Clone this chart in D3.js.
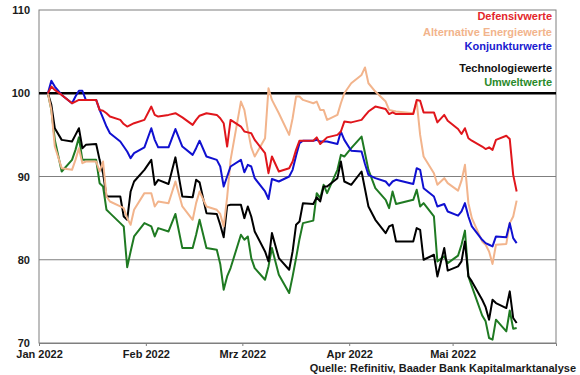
<!DOCTYPE html>
<html>
<head>
<meta charset="utf-8">
<script src="https://cdn.jsdelivr.net/npm/d3@7"></script>
<style>
  body { margin: 0; background: #fff; }
  svg { display: block; font-family: "Liberation Sans", Arial, sans-serif; }
</style>
</head>
<body>
<div id="chart"></div>
<script>
// Trading days shown in the chart (index 100 = 3 Jan 2022)
const dates = [
  '2022-01-03','2022-01-04','2022-01-05','2022-01-07','2022-01-10','2022-01-11','2022-01-12','2022-01-13','2022-01-14',
  '2022-01-17','2022-01-18','2022-01-19','2022-01-20','2022-01-21','2022-01-24','2022-01-25','2022-01-26','2022-01-27',
  '2022-01-28','2022-01-31','2022-02-02','2022-02-03','2022-02-04','2022-02-07','2022-02-09','2022-02-11','2022-02-14',
  '2022-02-15','2022-02-16','2022-02-18','2022-02-21','2022-02-22','2022-02-23','2022-02-24','2022-02-25','2022-02-28',
  '2022-03-01','2022-03-02','2022-03-03','2022-03-04','2022-03-07','2022-03-08','2022-03-09','2022-03-11','2022-03-14',
  '2022-03-15','2022-03-16','2022-03-17','2022-03-18','2022-03-21','2022-03-22','2022-03-23','2022-03-24','2022-03-25',
  '2022-03-28','2022-03-29','2022-03-30','2022-04-01','2022-04-04','2022-04-05','2022-04-06','2022-04-08','2022-04-11',
  '2022-04-12','2022-04-13','2022-04-14','2022-04-19','2022-04-20','2022-04-21','2022-04-22','2022-04-25','2022-04-26',
  '2022-04-28','2022-04-29','2022-05-02','2022-05-03','2022-05-04','2022-05-05','2022-05-06','2022-05-09','2022-05-10',
  '2022-05-11','2022-05-12','2022-05-13','2022-05-16','2022-05-17','2022-05-18','2022-05-19'
];

const defensivwerte = [
  100, 100.8, 100.4, 99.8, 98.8, 99.0, 99.2, 99.2, 99.2,
  99.2, 98.0, 97.9, 97.6, 97.2, 96.8, 96.3, 96.0, 96.2,
  96.4, 96.8, 98.4, 97.4, 97.2, 97.4, 97.6, 97.1, 96.2,
  96.8, 97.3, 97.6, 97.4, 97.0, 96.4, 93.6, 96.8, 96.0,
  95.4, 95.3, 95.2, 94.4, 92.8, 90.4, 92.4, 90.6, 91.0,
  91.8, 93.2, 94.3, 94.3, 94.3, 94.7, 93.9, 94.3, 94.7,
  95.0, 95.4, 96.6, 96.5, 96.8, 97.3, 97.8, 98.4, 98.1,
  97.5, 97.7, 97.5, 97.5, 99.2, 99.1, 97.7, 97.7, 96.5,
  97.4, 96.7, 95.7, 95.1, 95.8, 94.6, 94.3, 93.6, 93.3,
  93.5, 93.2, 94.4, 94.9, 94.5, 90.2, 88.2
];

const alternativeEnergie = [
  100, 98.0, 93.6, 91.0, 90.8, 92.0, 93.4, 91.6, 91.8,
  91.8, 90.6, 91.8, 87.6, 87.0, 86.4, 86.2, 85.0, 84.2,
  86.0, 88.0, 88.0, 86.4, 87.0, 86.8, 89.4, 86.4, 84.8,
  86.8, 88.2, 86.4, 86.0, 85.5, 84.0, 87.5, 92.0, 99.0,
  98.0, 95.6, 93.5, 92.4, 94.6, 100.6, 99.2, 97.6, 95.0,
  97.0, 99.6, 99.6, 99.2, 98.8, 99.0, 98.0, 98.0, 96.8,
  97.4, 98.8, 100.0, 101.2, 102.2, 103.1, 101.2, 100.2, 99.0,
  98.0, 97.9, 97.8, 97.6, 99.0, 95.0, 92.4, 90.4, 89.0,
  89.8, 89.2, 88.3, 89.5, 91.4, 86.8, 85.0, 82.2, 81.8,
  81.0, 79.5, 81.8, 81.9, 84.4, 85.2, 87.1
];

const konjunkturwerte = [
  100, 101.5, 100.8, 99.8, 98.8, 99.6, 100.3, 100.3, 99.2,
  99.2, 98.0, 97.0, 96.0, 95.2, 94.2, 93.6, 93.0, 92.2,
  92.8, 93.5, 95.8, 94.4, 93.5, 93.5, 95.7, 93.6, 92.6,
  93.4, 94.3, 92.4, 92.0, 91.2, 88.8, 90.0, 91.2, 92.0,
  90.5, 91.4, 91.2, 89.8, 88.2, 87.3, 89.7, 89.4, 90.0,
  90.8, 92.5, 94.0, 94.3, 94.3, 94.4, 94.2, 94.2, 94.2,
  93.9, 95.4, 94.4, 93.1, 93.0, 91.5, 90.2, 89.8, 89.4,
  88.9, 89.4, 89.6, 89.1, 91.0, 90.8, 88.6, 87.6, 86.4,
  86.7, 85.8, 85.3, 85.8, 86.8, 85.2, 84.0, 82.4, 82.0,
  81.8, 81.6, 82.8, 82.7, 84.4, 82.6, 82.0
];

const technologiewerte = [
  100, 98.6, 95.8, 94.4, 94.2, 95.0, 95.8, 93.4, 93.8,
  93.9, 92.0, 90.4, 87.6, 87.6, 87.6, 85.2, 84.8, 88.2,
  89.4, 90.8, 92.0, 89.0, 89.6, 89.1, 92.3, 87.6, 87.5,
  89.6, 89.3, 85.6, 85.5, 84.2, 82.7, 86.5, 86.6, 86.6,
  85.0, 86.4, 85.2, 83.4, 81.0, 79.8, 83.2, 80.2, 78.8,
  81.0, 84.2, 84.6, 86.8, 86.7, 87.5, 87.0, 88.8, 88.8,
  89.8, 91.8, 89.4, 89.0, 90.6, 88.5, 86.4, 84.8, 83.2,
  84.0, 84.2, 82.2, 82.2, 83.8, 83.6, 80.0, 80.6, 78.0,
  81.4, 78.7, 79.2, 79.8, 82.2, 78.0, 77.4, 75.2, 74.3,
  72.8, 75.2, 74.8, 74.2, 76.2, 73.0, 72.4
];

const umweltwerte = [
  100, 98.0, 94.4, 90.6, 92.0, 93.2, 94.7, 92.0, 92.0,
  92.0, 89.2, 88.8, 86.0, 85.6, 84.4, 84.0, 79.1, 81.0,
  82.8, 84.4, 84.0, 82.8, 83.8, 83.4, 85.5, 81.4, 81.4,
  83.0, 84.8, 81.4, 81.2, 79.5, 76.4, 78.0, 79.0, 83.0,
  82.4, 82.8, 80.2, 79.0, 77.6, 79.2, 81.4, 78.2, 76.0,
  78.0, 80.2, 82.5, 84.4, 84.7, 88.0, 87.4, 89.0, 88.0,
  90.8, 92.6, 92.4, 93.4, 94.8, 92.8, 90.8, 88.6, 87.2,
  86.2, 88.2, 86.7, 87.2, 88.4, 86.4, 86.8, 85.2, 79.8,
  80.4, 79.6, 80.5, 81.8, 83.5, 78.0, 76.8, 73.3, 72.6,
  70.6, 70.4, 72.8, 71.4, 73.9, 71.7, 71.8
];

const yTicks = [70, 80, 90, 100, 110];
const monthTicks = ['2022-01-01', '2022-02-01', '2022-03-01', '2022-04-01', '2022-05-01'];
const monthNames = ['Jan', 'Feb', 'Mrz', 'Apr', 'Mai', 'Jun', 'Jul', 'Aug', 'Sep', 'Okt', 'Nov', 'Dez'];
const source = 'Quelle: Refinitiv, Baader Bank Kapitalmarktanalyse';

// series in drawing order, legend slot = row in the legend block
const series = [
  { name: 'Umweltwerte',              values: umweltwerte,        color: '#1f7a22', text: '#2a8a2a', slot: 4 },
  { name: 'Technologiewerte',         values: technologiewerte,   color: '#000000', text: '#111111', slot: 3 },
  { name: 'Alternative Energiewerte', values: alternativeEnergie, color: '#f2b48c', text: '#f2b48c', slot: 1 },
  { name: 'Konjunkturwerte',          values: konjunkturwerte,    color: '#1010d0', text: '#1a1ad0', slot: 2 },
  { name: 'Defensivwerte',            values: defensivwerte,      color: '#e0161c', text: '#e3262b', slot: 0 }
];

const width = 580, height = 375;
const margin = { top: 10, right: 24, bottom: 32, left: 39 };

const parse = d3.timeParse('%Y-%m-%d');
const days = dates.map(parse);

const svg = d3.select('#chart')
  .append('svg')
    .attr('width', width)
    .attr('height', height);

const x = d3.scaleTime()
  .domain([parse('2022-01-01'), parse('2022-05-31')])
  .range([margin.left, width - margin.right]);

const y = d3.scaleLinear()
  .domain([70, 110])
  .range([height - margin.bottom, margin.top]);

// points sit in the middle of their day slot
const xd = d => x(d3.timeHour.offset(d, 14));

// Gridlines
svg.append('g')
  .selectAll('line')
  .data(yTicks.filter(v => v !== 100 && v !== 70 && v !== 110))
  .join('line')
    .attr('x1', margin.left).attr('x2', width - margin.right)
    .attr('y1', d => y(d)).attr('y2', d => y(d))
    .attr('stroke', '#7f7f7f')
    .attr('stroke-width', 1);

// Plot frame
svg.append('rect')
  .attr('x', margin.left)
  .attr('y', margin.top)
  .attr('width', width - margin.right - margin.left)
  .attr('height', height - margin.bottom - margin.top)
  .attr('fill', 'none')
  .attr('stroke', '#7f7f7f')
  .attr('stroke-width', 1);

// Y axis labels
const yAxis = svg.append('g')
  .attr('transform', `translate(${margin.left},0)`)
  .call(d3.axisLeft(y).tickValues(yTicks).tickSize(0).tickPadding(9));
yAxis.select('.domain').remove();
yAxis.selectAll('text')
  .attr('font-size', 11)
  .attr('font-weight', 'bold')
  .attr('font-family', '"Liberation Sans", Arial, sans-serif')
  .attr('fill', '#1a1a1a');

// X axis
const xAxis = svg.append('g')
  .attr('transform', `translate(0,${height - margin.bottom})`)
  .call(d3.axisBottom(x)
    .tickValues(monthTicks.map(parse))
    .tickSize(3)
    .tickPadding(4)
    .tickFormat(d => `${monthNames[d.getMonth()]} ${d.getFullYear()}`));
xAxis.select('.domain').attr('stroke', '#7f7f7f');
xAxis.selectAll('line').attr('stroke', '#7f7f7f');
xAxis.selectAll('text')
  .attr('font-size', 11)
  .attr('font-weight', 'bold')
  .attr('font-family', '"Liberation Sans", Arial, sans-serif')
  .attr('fill', '#1a1a1a');

// Reference line at 100
svg.append('line')
  .attr('x1', margin.left).attr('x2', width - margin.right)
  .attr('y1', y(100)).attr('y2', y(100))
  .attr('stroke', '#000')
  .attr('stroke-width', 2.5);

// Lines
const line = d3.line()
  .x((d, i) => xd(days[i]))
  .y(d => y(d));

svg.append('g')
  .selectAll('path')
  .data(series)
  .join('path')
    .attr('d', d => line(d.values))
    .attr('fill', 'none')
    .attr('stroke', d => d.color)
    .attr('stroke-width', 2)
    .attr('stroke-linejoin', 'round');

// Legend (right aligned text block)
const legendY = [16.5, 32, 45.7, 68.3, 81.7];
svg.append('g')
  .selectAll('text')
  .data(series)
  .join('text')
    .attr('x', 552)
    .attr('y', d => legendY[d.slot])
    .attr('dy', '0.35em')
    .attr('text-anchor', 'end')
    .attr('font-size', 11)
    .attr('font-weight', 'bold')
    .attr('fill', d => d.text)
    .text(d => d.name);

// Source
svg.append('text')
  .attr('x', 576)
  .attr('y', 368)
  .attr('dy', '0.35em')
  .attr('text-anchor', 'end')
  .attr('font-size', 11)
  .attr('font-weight', 'bold')
  .attr('fill', '#1a1a1a')
  .text(source);
</script>
</body>
</html>
